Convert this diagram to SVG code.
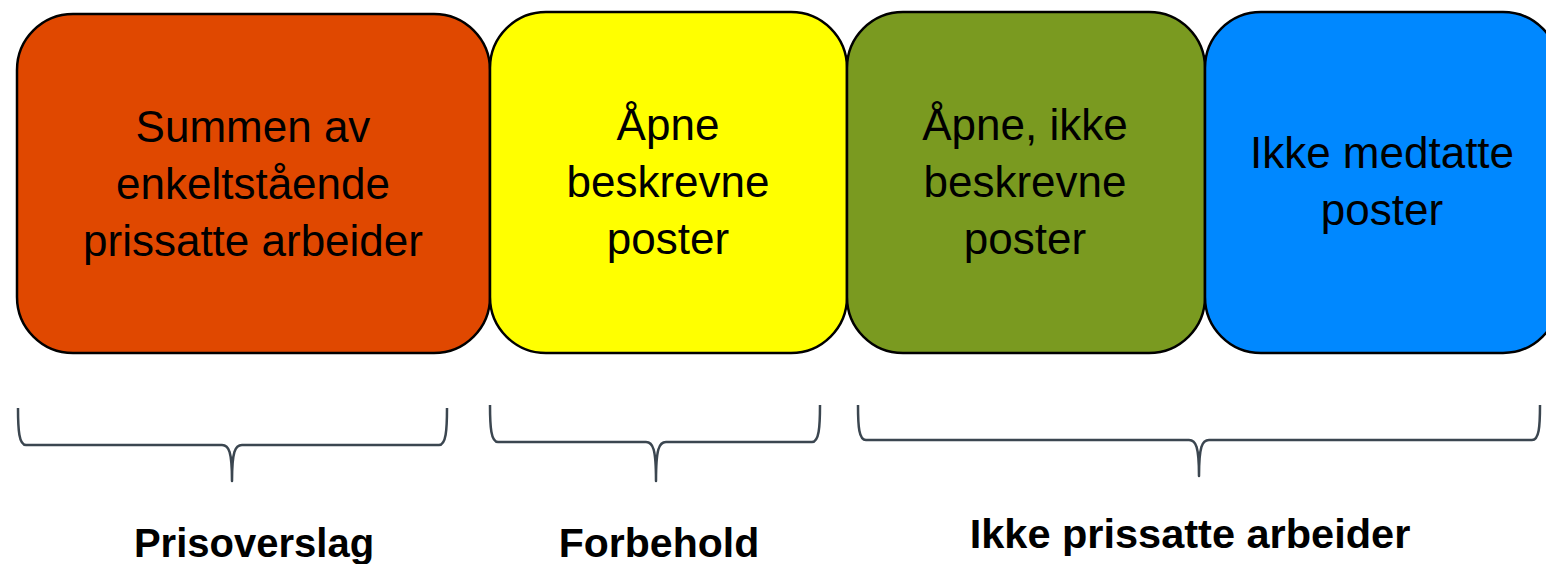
<svg xmlns="http://www.w3.org/2000/svg" width="1546" height="564" viewBox="0 0 1546 564">
<style>
.box{stroke:#000;stroke-width:2.5}
.t{font-family:"Liberation Sans",Arial,sans-serif;font-size:44px;fill:#000;text-anchor:middle}
.lbl{font-family:"Liberation Sans",Arial,sans-serif;font-weight:bold;font-size:40px;fill:#000;text-anchor:middle}
.brace{fill:none;stroke:#3B4650;stroke-width:2.5;stroke-linejoin:round}
</style>
<rect width="1546" height="564" fill="#fff"/>
<g id="node-prisoverslag-box">
<rect class="box" x="17" y="14" width="473" height="339" rx="56" fill="#E04800"/>
<text class="t" x="253" y="142">Summen av</text>
<text class="t" x="253" y="199">enkeltstående</text>
<text class="t" x="253" y="256">prissatte arbeider</text>
</g>
<g id="node-apne-beskrevne">
<rect class="box" x="490" y="12" width="357" height="341" rx="56" fill="#FFFF00"/>
<text class="t" x="668" y="140">Åpne</text>
<text class="t" x="668" y="197">beskrevne</text>
<text class="t" x="668" y="254">poster</text>
</g>
<g id="node-apne-ikke-beskrevne">
<rect class="box" x="847" y="12" width="358" height="341" rx="56" fill="#7A9A20"/>
<text class="t" x="1025" y="140">Åpne, ikke</text>
<text class="t" x="1025" y="197">beskrevne</text>
<text class="t" x="1025" y="254">poster</text>
</g>
<g id="node-ikke-medtatte">
<rect class="box" x="1205" y="12" width="354" height="341" rx="56" fill="#0088FF"/>
<text class="t" x="1382" y="168">Ikke medtatte</text>
<text class="t" x="1382" y="225">poster</text>
</g>
<g id="connectors">
<path class="brace" d="M18,408 C18,430 19,445 26,445 L222,445 C229,445 232,452 232,481 C232,452 235,445 242,445 L439,445 C446,445 447,430 447,408"/>
<path class="brace" d="M490,405 C490,427 491,442 498,442 L646,442 C653,442 656,449 656,481 C656,449 659,442 666,442 L812,442 C819,442 820,427 820,405"/>
<path class="brace" d="M858,405 C858,427 859,440 866,440 L1189,440 C1196,440 1199,447 1199,476 C1199,447 1202,440 1209,440 L1532,440 C1539,440 1540,427 1540,405"/>
</g>
<g id="node-label-prisoverslag"><text class="lbl" x="254" y="557">Prisoverslag</text></g>
<g id="node-label-forbehold"><text class="lbl" x="659" y="557" style="font-size:41px">Forbehold</text></g>
<g id="node-label-ikke-prissatte"><text class="lbl" x="1190" y="548" style="font-size:41.5px">Ikke prissatte arbeider</text></g>
</svg>
